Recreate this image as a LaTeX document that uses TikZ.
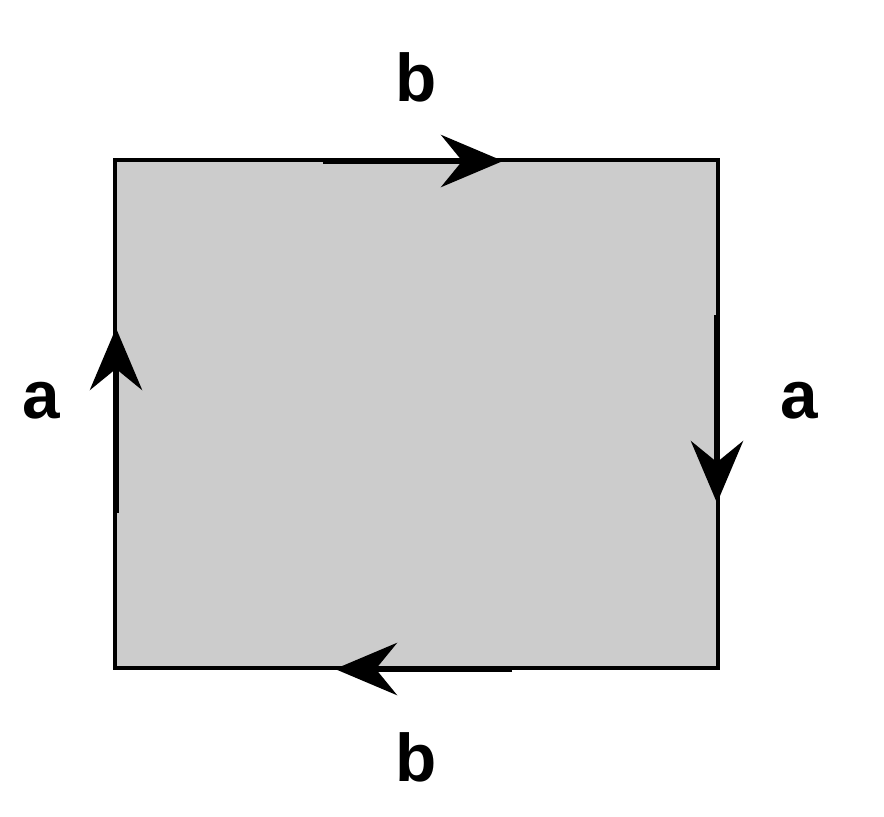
\documentclass[tikz,border=0pt]{standalone}
\usepackage{fontspec}
\setmainfont{Liberation Sans}
\usetikzlibrary{arrows.meta}
\begin{document}
\begin{tikzpicture}[x=0.025cm, y=-0.025cm,
    edge/.style={line width=3.2pt},
    dir/.style={line width=4.8pt, -{Stealth[length=44pt, width=37pt, inset=15pt]}},
    lbl/.style={font=\fontsize{48}{50}\selectfont\bfseries}]
    \useasboundingbox (0,0) rectangle (884,817);

    \coordinate (nw) at (115,160);
    \coordinate (ne) at (718,160);
    \coordinate (se) at (718,668);
    \coordinate (sw) at (115,668);
    \draw[edge, fill=black!20] (sw) -- (nw) -- (ne) -- (se) -- cycle;

    \coordinate (top0) at (323,161);
    \coordinate (top1) at (503,161);
    \coordinate (right0) at (717,315);
    \coordinate (right1) at (717,503);
    \coordinate (bot0) at (512,669);
    \coordinate (bot1) at (335,669);
    \coordinate (left0) at (116,513);
    \coordinate (left1) at (116,328);
    \draw[dir] (top0) -- (top1);
    \draw[dir] (right0) -- (right1);
    \draw[dir] (bot0) -- (bot1);
    \draw[dir] (left0) -- (left1);

    \node[lbl] (btop) at (416,77) {b};
    \node[lbl] (bbot) at (416,757) {b};
    \node[lbl] (aleft) at (41,401) {a};
    \node[lbl] (aright) at (799,401) {a};
\end{tikzpicture}
\end{document}
